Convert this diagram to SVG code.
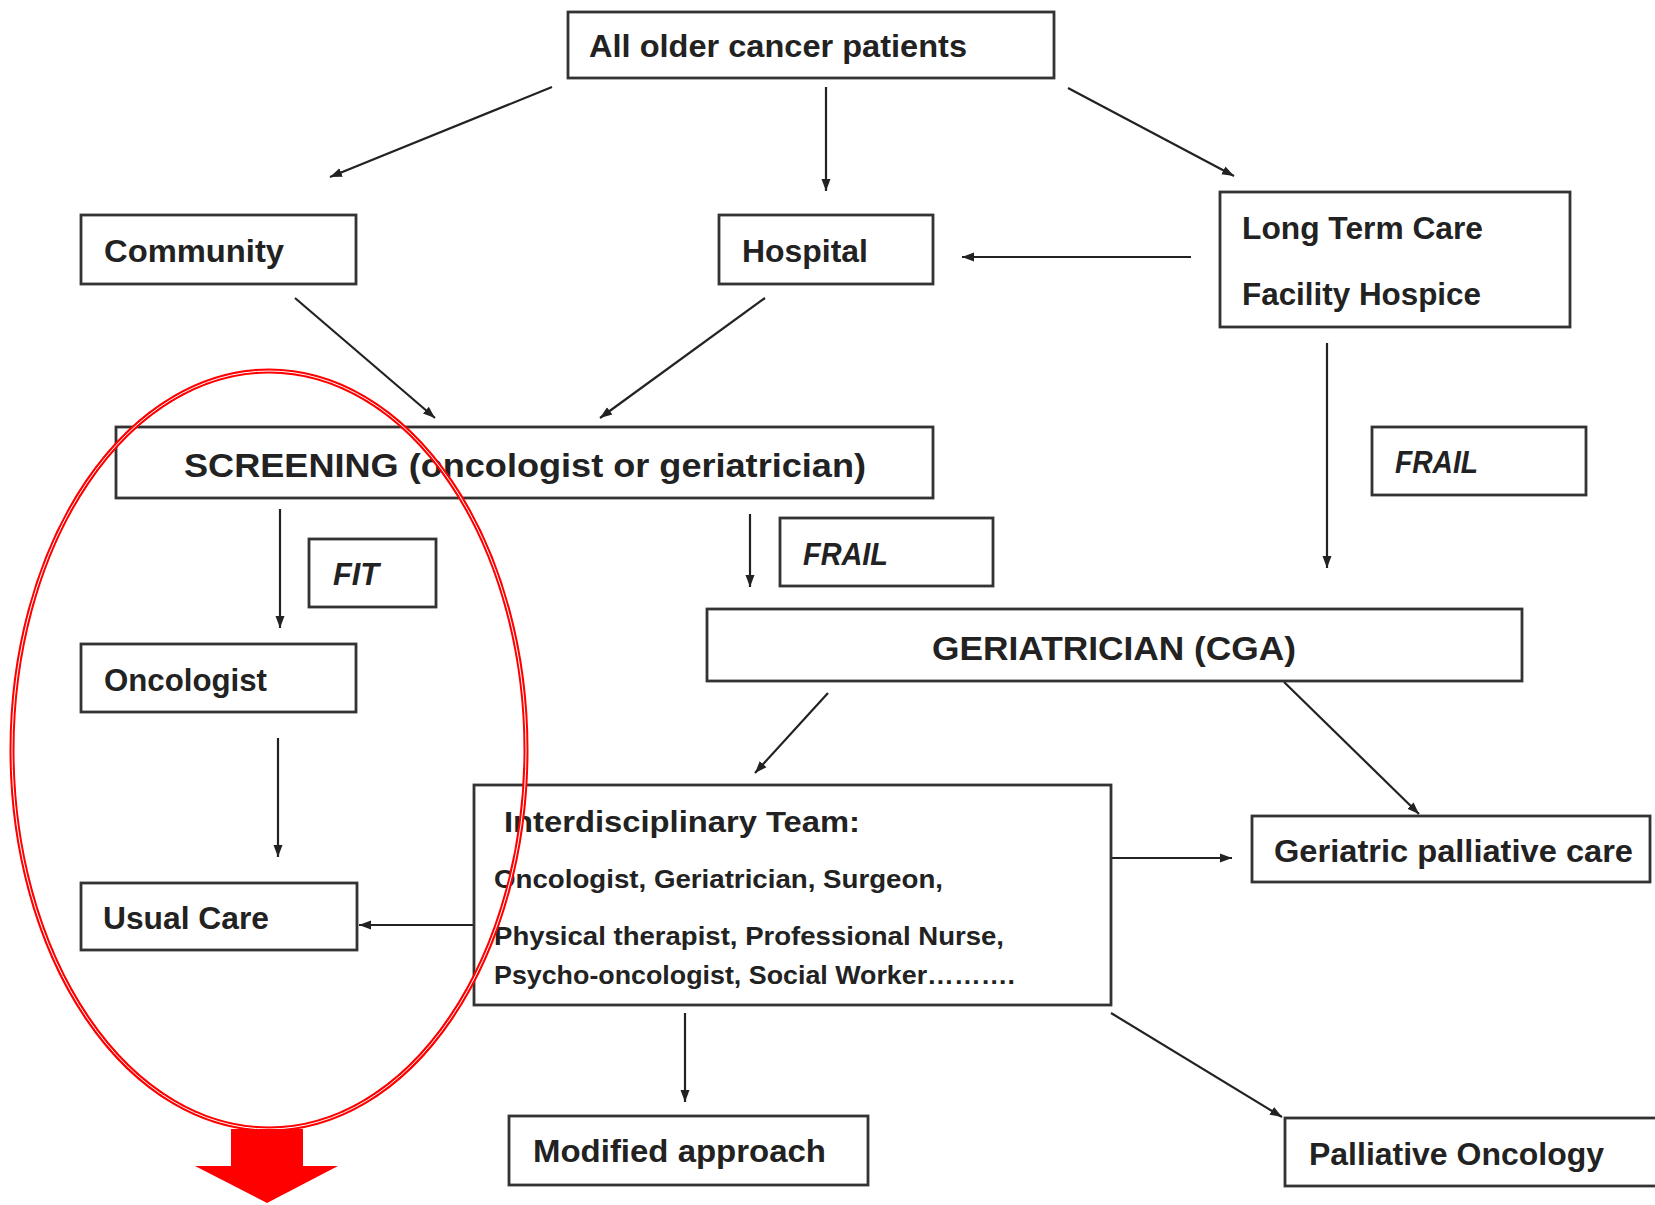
<svg xmlns="http://www.w3.org/2000/svg" width="1655" height="1205" viewBox="0 0 1655 1205">
<style>
.box{fill:#fff;stroke:#333;stroke-width:2.8}
.t{font-family:"Liberation Sans",Arial,sans-serif;font-weight:bold;fill:#222}
.it{font-style:italic}
.c{stroke:#222;stroke-width:2.2;fill:none}
</style>
<defs>
<marker id="ah" markerUnits="userSpaceOnUse" markerWidth="13" markerHeight="11" refX="12" refY="5.5" orient="auto">
<path d="M0,1 L12,5.5 L0,10 Z" fill="#222"/>
</marker>
</defs>
<rect width="1655" height="1205" fill="#fff"/>
<g id="connectors">
<line class="c" x1="552" y1="87" x2="330" y2="177" marker-end="url(#ah)"/>
<line class="c" x1="826" y1="87" x2="826" y2="191" marker-end="url(#ah)"/>
<line class="c" x1="1068" y1="88" x2="1234" y2="176" marker-end="url(#ah)"/>
<line class="c" x1="1191" y1="257" x2="962" y2="257" stroke="#555" stroke-width="2.8" marker-end="url(#ah)"/>
<line class="c" x1="295" y1="298" x2="435" y2="418" marker-end="url(#ah)"/>
<line class="c" x1="765" y1="298" x2="600" y2="418" marker-end="url(#ah)"/>
<line class="c" x1="1327" y1="343" x2="1327" y2="568" marker-end="url(#ah)"/>
<line class="c" x1="280" y1="509" x2="280" y2="628" marker-end="url(#ah)"/>
<line class="c" x1="750" y1="514" x2="750" y2="587" marker-end="url(#ah)"/>
<line class="c" x1="278" y1="738" x2="278" y2="857" marker-end="url(#ah)"/>
<line class="c" x1="828" y1="693" x2="755" y2="773" marker-end="url(#ah)"/>
<line class="c" x1="1284" y1="682" x2="1419" y2="814" marker-end="url(#ah)"/>
<line class="c" x1="1111" y1="858" x2="1232" y2="858" marker-end="url(#ah)"/>
<line class="c" x1="473" y1="925" x2="359" y2="925" stroke-width="2.8" marker-end="url(#ah)"/>
<line class="c" x1="685" y1="1013" x2="685" y2="1102" marker-end="url(#ah)"/>
<line class="c" x1="1111" y1="1013" x2="1282" y2="1117" marker-end="url(#ah)"/>
</g>
<g id="all-older"><rect class="box" x="568" y="12" width="486" height="66"/><text class="t" x="589" y="57" font-size="32" textLength="378" lengthAdjust="spacingAndGlyphs">All older cancer patients</text></g>
<g id="community"><rect class="box" x="81" y="215" width="275" height="69"/><text class="t" x="104" y="262" font-size="31" textLength="180" lengthAdjust="spacingAndGlyphs">Community</text></g>
<g id="hospital"><rect class="box" x="719" y="215" width="214" height="69"/><text class="t" x="742" y="262" font-size="31" textLength="126" lengthAdjust="spacingAndGlyphs">Hospital</text></g>
<g id="ltc"><rect class="box" x="1220" y="192" width="350" height="135"/><text class="t" x="1242" y="239" font-size="31" textLength="241" lengthAdjust="spacingAndGlyphs">Long Term Care</text><text class="t" x="1242" y="305" font-size="31" textLength="239" lengthAdjust="spacingAndGlyphs">Facility Hospice</text></g>
<g id="screening"><rect class="box" x="116" y="427" width="817" height="71"/><text class="t" x="184" y="477" font-size="33" textLength="682" lengthAdjust="spacingAndGlyphs">SCREENING (oncologist or geriatrician)</text></g>
<g id="frail-right"><rect class="box" x="1372" y="427" width="214" height="68"/><text class="t it" x="1395" y="473" font-size="31" textLength="83" lengthAdjust="spacingAndGlyphs">FRAIL</text></g>
<g id="fit"><rect class="box" x="309" y="539" width="127" height="68"/><text class="t it" x="333" y="585" font-size="31" textLength="46" lengthAdjust="spacingAndGlyphs">FIT</text></g>
<g id="frail-mid"><rect class="box" x="780" y="518" width="213" height="68"/><text class="t it" x="803" y="565" font-size="31" textLength="85" lengthAdjust="spacingAndGlyphs">FRAIL</text></g>
<g id="oncologist"><rect class="box" x="81" y="644" width="275" height="68"/><text class="t" x="104" y="691" font-size="31" textLength="163" lengthAdjust="spacingAndGlyphs">Oncologist</text></g>
<g id="geriatrician"><rect class="box" x="707" y="609" width="815" height="72"/><text class="t" x="932" y="660" font-size="33" textLength="364" lengthAdjust="spacingAndGlyphs">GERIATRICIAN (CGA)</text></g>
<g id="idt"><rect class="box" x="474" y="785" width="637" height="220"/>
<text class="t" x="504" y="832" font-size="30" textLength="356" lengthAdjust="spacingAndGlyphs">Interdisciplinary Team:</text>
<text class="t" x="494" y="888" font-size="26" textLength="449" lengthAdjust="spacingAndGlyphs">Oncologist, Geriatrician, Surgeon,</text>
<text class="t" x="494" y="945" font-size="26" textLength="510" lengthAdjust="spacingAndGlyphs">Physical therapist, Professional Nurse,</text>
<text class="t" x="494" y="984" font-size="26" textLength="521" lengthAdjust="spacingAndGlyphs">Psycho-oncologist, Social Worker……….</text></g>
<g id="gpc"><rect class="box" x="1252" y="816" width="398" height="66"/><text class="t" x="1274" y="862" font-size="31" textLength="359" lengthAdjust="spacingAndGlyphs">Geriatric palliative care</text></g>
<g id="usual-care"><rect class="box" x="81" y="883" width="276" height="67"/><text class="t" x="103" y="929" font-size="31" textLength="166" lengthAdjust="spacingAndGlyphs">Usual Care</text></g>
<g id="modified"><rect class="box" x="509" y="1116" width="359" height="69"/><text class="t" x="533" y="1162" font-size="31" textLength="293" lengthAdjust="spacingAndGlyphs">Modified approach</text></g>
<g id="palliative"><rect class="box" x="1285" y="1118" width="390" height="68"/><text class="t" x="1309" y="1165" font-size="31" textLength="295" lengthAdjust="spacingAndGlyphs">Palliative Oncology</text></g>
<g id="highlight">
<ellipse cx="269" cy="750" rx="257" ry="379" fill="none" stroke="#f00" stroke-width="5"/>
<ellipse cx="269" cy="750" rx="257" ry="379" fill="none" stroke="#fff" stroke-width="1"/>
<polygon points="231,1129 303,1129 303,1166 338,1166 267,1203 195,1166 231,1166" fill="#f00"/>
</g>
</svg>
